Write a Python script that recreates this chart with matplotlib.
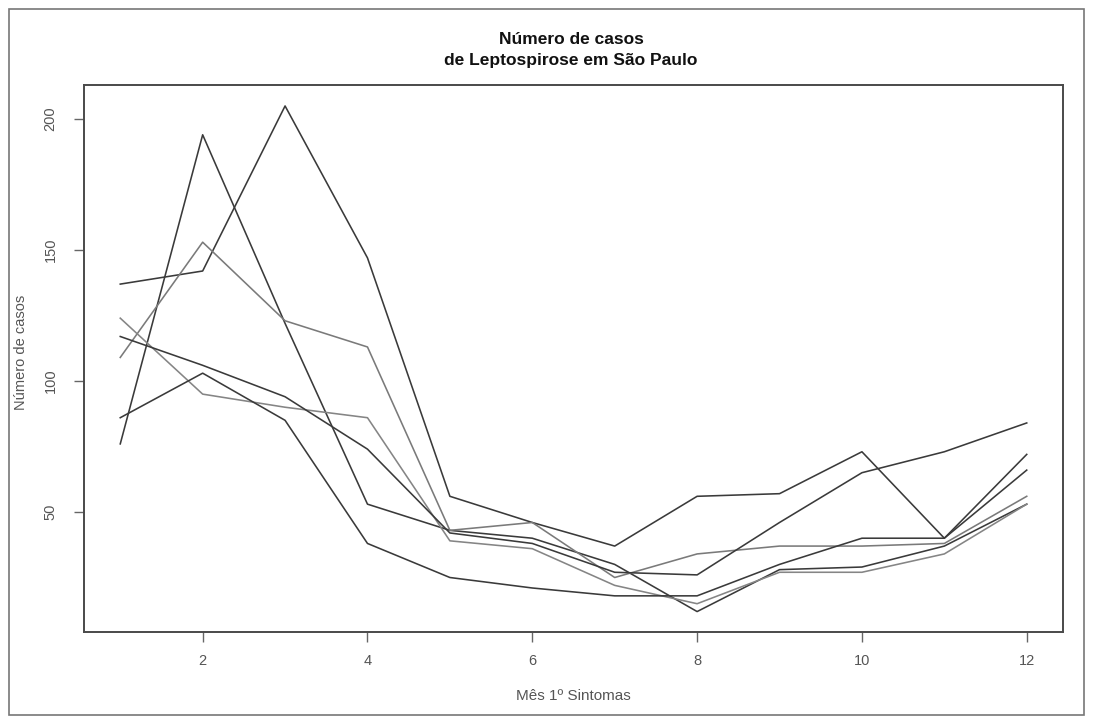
import matplotlib
matplotlib.use("Agg")
import matplotlib.pyplot as plt
from matplotlib.patches import Rectangle

plt.rcParams['font.family'] = ['Liberation Sans', 'DejaVu Sans']

months = list(range(1, 13))
serie_a = [137, 142, 205, 147, 56, 46, 37, 56, 57, 73, 40, 72]
serie_b = [76, 194, 122, 53, 43, 40, 30, 12, 28, 29, 37, 53]
serie_c = [109, 153, 123, 113, 43, 46, 25, 34, 37, 37, 38, 56]
serie_d = [124, 95, 90, 86, 39, 36, 22, 15, 27, 27, 34, 53]
serie_e = [86, 103, 85, 38, 25, 21, 18, 18, 30, 40, 40, 66]
serie_f = [117, 106, 94, 74, 42, 38, 27, 26, 46, 65, 73, 84]
series = [serie_a, serie_b, serie_c, serie_d, serie_e, serie_f]
colors = ['#3a3a3a', '#3a3a3a', '#7a7a7a', '#858585', '#3a3a3a', '#3a3a3a']

x_ticks = [2, 4, 6, 8, 10, 12]
y_ticks = [50, 100, 150, 200]

W, H = 1093, 722
fig = plt.figure(figsize=(W / 100, H / 100), dpi=100)
fig.patch.set_facecolor('white')

left, right, top, bottom = 84, 1063, 85, 632
ax = fig.add_axes([left / W, 1 - bottom / H, (right - left) / W, (bottom - top) / H])

for s, c in zip(series, colors):
    ax.plot(months, s, color=c, linewidth=1.15)

ax.set_xlim(0.56, 12.44)
ax.set_ylim(4.2, 213)
ax.set_xticks(x_ticks)
ax.set_xticklabels([str(t) for t in x_ticks])
ax.set_yticks(y_ticks)
ax.set_yticklabels([str(t) for t in y_ticks], rotation=90, va='center')
ax.tick_params(axis='both', direction='out', length=7, width=1, colors='#666666',
               labelsize=10.5, labelcolor='#555555')
ax.tick_params(axis='x', pad=9)
ax.tick_params(axis='y', pad=12)
for sp in ax.spines.values():
    sp.set_color('#4a4a4a')
    sp.set_linewidth(1.4)

fig.text(573 / W, 1 - 696 / H, 'Mês 1º Sintomas', ha='center', va='center',
         fontsize=11, color='#555555')
fig.text(21 / W, 1 - 352 / H, 'Número de casos', ha='center', va='center',
         rotation=90, fontsize=10.5, color='#555555')
fig.text(571 / W, 1 - 40 / H, 'Número de casos', ha='center', va='center',
         fontsize=12.5, fontweight='bold', color='#111111')
fig.text(571 / W, 1 - 60 / H, 'de Leptospirose em São Paulo', ha='center', va='center',
         fontsize=12.5, fontweight='bold', color='#111111')

frame = Rectangle((9 / W, 1 - 715 / H), (1084 - 9) / W, (715 - 9) / H,
                  transform=fig.transFigure, fill=False, edgecolor='#777777', linewidth=1.2)
fig.add_artist(frame)

fig.savefig('out.png', dpi=100, facecolor='white')
